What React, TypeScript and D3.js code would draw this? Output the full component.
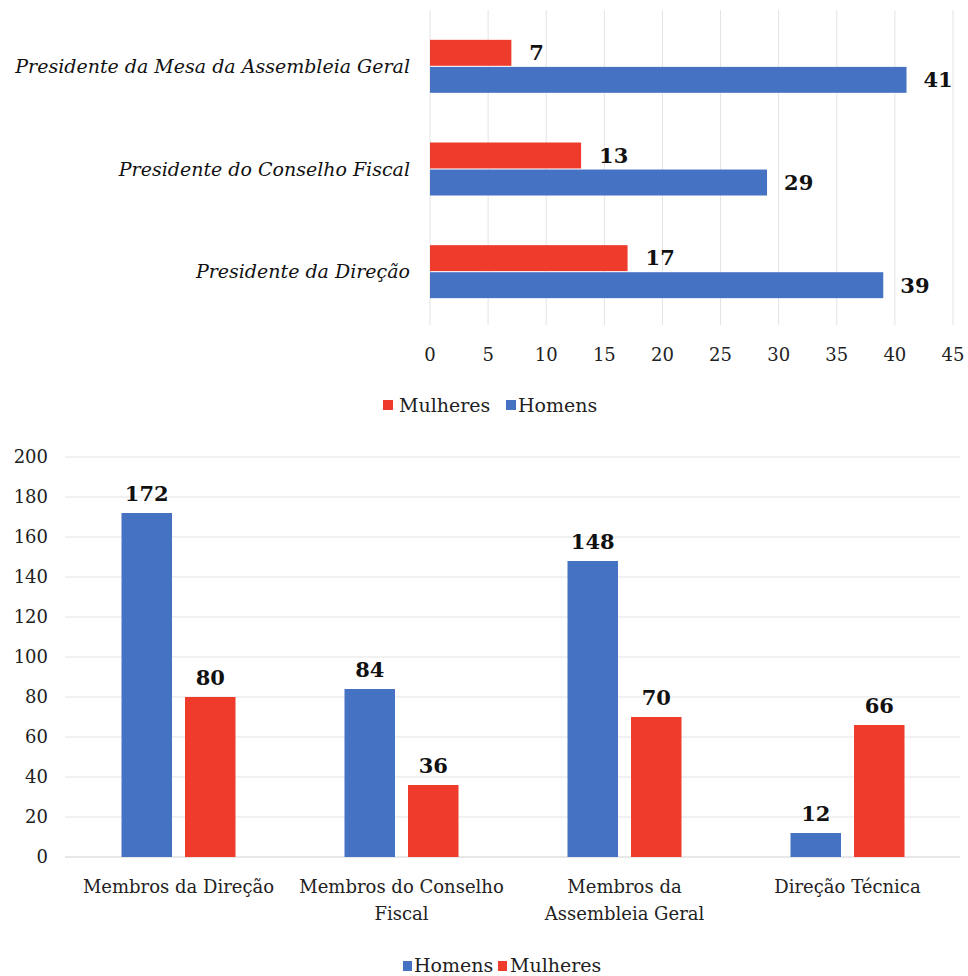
import React from "react";
import * as d3 from "d3";

// Top chart: presidencies by gender
const presCategories = [
  "Presidente da Mesa da Assembleia Geral",
  "Presidente do Conselho Fiscal",
  "Presidente da Direção",
];
const presMulheres = [7, 13, 17];
const presHomens = [41, 29, 39];
const presTicks = [0, 5, 10, 15, 20, 25, 30, 35, 40, 45];

// Bottom chart: members by body and gender
const memberCategories = [
  ["Membros da Direção"],
  ["Membros do Conselho", "Fiscal"],
  ["Membros da", "Assembleia Geral"],
  ["Direção Técnica"],
];
const memberHomens = [172, 84, 148, 12];
const memberMulheres = [80, 36, 70, 66];
const memberTicks = [0, 20, 40, 60, 80, 100, 120, 140, 160, 180, 200];

const RED = "#ef3b2c";
const BLUE = "#4672c4";
const GRID = "#e3e3e3";
const FONT = "DejaVu Serif, serif";

function TopChart() {
  const x = d3.scaleLinear().domain([0, 45]).range([430, 953]);
  const y = d3.scaleBand<number>().domain([0, 1, 2]).range([15, 323]).padding(0);
  const sub = (i: number) => {
    const c = (y(i) as number) + y.bandwidth() / 2;
    return d3.scaleBand<string>().domain(["Mulheres", "Homens"]).range([c - 26.5, c + 26.5]).paddingInner(0.04);
  };
  return (
    <g style={{ fontFamily: FONT }}>
      {presTicks.map((t) => (
        <line key={t} x1={x(t)} x2={x(t)} y1={10} y2={325} stroke={GRID} strokeWidth={1} />
      ))}
      {presCategories.map((cat, i) => {
        const s = sub(i);
        const c = (y(i) as number) + y.bandwidth() / 2;
        return (
          <g key={cat}>
            <rect x={x(0)} y={s("Mulheres")} width={x(presMulheres[i]) - x(0)} height={s.bandwidth()} fill={RED} />
            <rect x={x(0)} y={s("Homens")} width={x(presHomens[i]) - x(0)} height={s.bandwidth()} fill={BLUE} />
            <text x={x(presMulheres[i]) + 18} y={(s("Mulheres") as number) + s.bandwidth() / 2} dy="0.35em"
              fontWeight="bold" fontSize={21} fill="#111">{presMulheres[i]}</text>
            <text x={x(presHomens[i]) + 17} y={(s("Homens") as number) + s.bandwidth() / 2} dy="0.35em"
              fontWeight="bold" fontSize={21} fill="#111">{presHomens[i]}</text>
            <text x={410} y={c} dy="0.35em" textAnchor="end" fontStyle="italic"
              fontSize={19} fill="#111">{cat}</text>
          </g>
        );
      })}
      {presTicks.map((t) => (
        <text key={t} x={x(t)} y={355} dy="0.35em" textAnchor="middle" fontSize={18} fill="#222">{t}</text>
      ))}
      <rect x={383} y={400} width={10} height={10} fill={RED} />
      <text x={399} y={405} dy="0.35em" fontSize={19} fill="#222">Mulheres</text>
      <rect x={506} y={400} width={10} height={10} fill={BLUE} />
      <text x={518} y={405} dy="0.35em" fontSize={19} fill="#222">Homens</text>
    </g>
  );
}

function BottomChart() {
  const y = d3.scaleLinear().domain([0, 200]).range([857, 457]);
  const x = d3.scaleBand<number>().domain([0, 1, 2, 3]).range([67, 959]).padding(0);
  const sub = (i: number) => {
    const c = (x(i) as number) + x.bandwidth() / 2;
    return d3.scaleBand<string>().domain(["Homens", "Mulheres"]).range([c - 57, c + 57]).paddingInner(0.205);
  };
  return (
    <g style={{ fontFamily: FONT }}>
      {memberTicks.map((t) => (
        <g key={t}>
          <line x1={65} x2={960} y1={y(t)} y2={y(t)} stroke={t === 0 ? "#d0d0d0" : GRID} strokeWidth={1} />
          <text x={48} y={y(t)} dy="0.35em" textAnchor="end" fontSize={18} fill="#222">{t}</text>
        </g>
      ))}
      {memberCategories.map((lines, i) => {
        const s = sub(i);
        const c = (x(i) as number) + x.bandwidth() / 2;
        const hx = s("Homens") as number;
        const mx = s("Mulheres") as number;
        return (
          <g key={i}>
            <rect x={hx} y={y(memberHomens[i])} width={s.bandwidth()} height={y(0) - y(memberHomens[i])} fill={BLUE} />
            <rect x={mx} y={y(memberMulheres[i])} width={s.bandwidth()} height={y(0) - y(memberMulheres[i])} fill={RED} />
            <text x={hx + s.bandwidth() / 2} y={y(memberHomens[i]) - 12} textAnchor="middle"
              fontWeight="bold" fontSize={21} fill="#111">{memberHomens[i]}</text>
            <text x={mx + s.bandwidth() / 2} y={y(memberMulheres[i]) - 12} textAnchor="middle"
              fontWeight="bold" fontSize={21} fill="#111">{memberMulheres[i]}</text>
            {lines.map((ln, k) => (
              <text key={k} x={c} y={887 + k * 27} dy="0.35em" textAnchor="middle" fontSize={18} fill="#222">{ln}</text>
            ))}
          </g>
        );
      })}
      <rect x={403} y={961} width={9} height={10} fill={BLUE} />
      <text x={414} y={965} dy="0.35em" fontSize={19} fill="#222">Homens</text>
      <rect x={498} y={961} width={9} height={10} fill={RED} />
      <text x={510} y={965} dy="0.35em" fontSize={19} fill="#222">Mulheres</text>
    </g>
  );
}

export default function App() {
  return (
    <svg width={968} height={976} style={{ position: "absolute", left: 0, top: 0, background: "#fff" }}>
      <TopChart />
      <BottomChart />
    </svg>
  );
}
